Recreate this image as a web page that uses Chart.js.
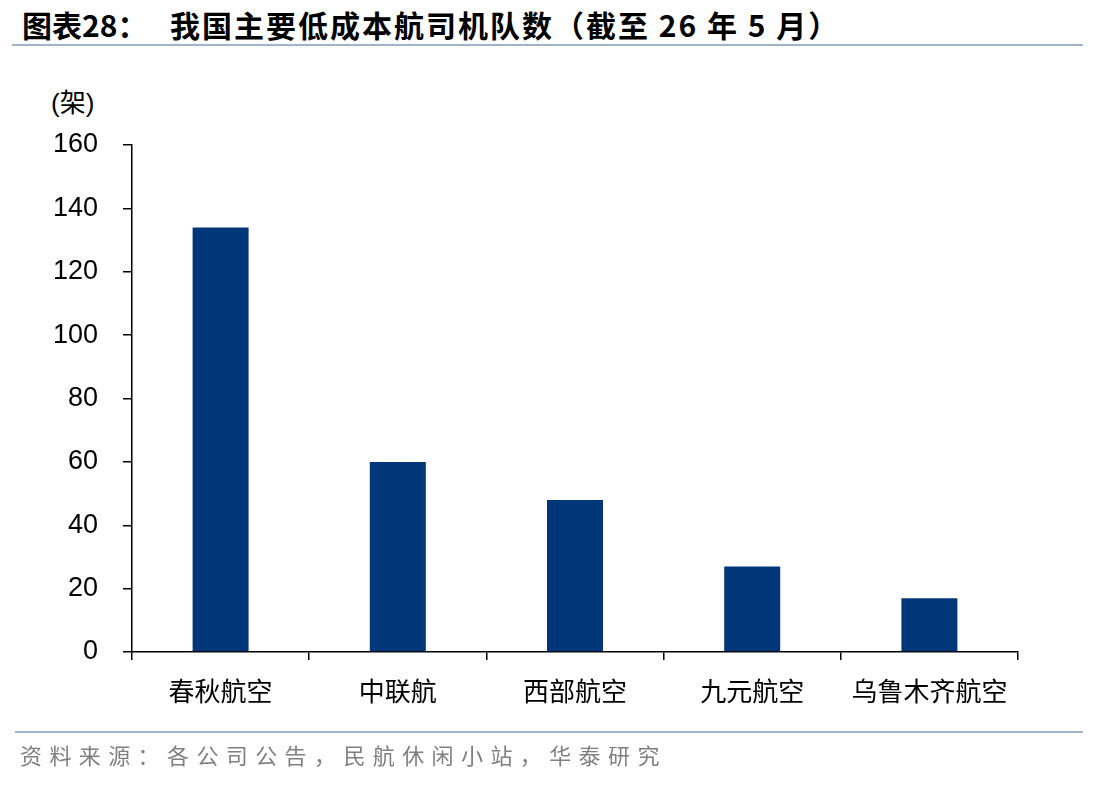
<!DOCTYPE html>
<html>
<head>
<meta charset="utf-8">
<script src="https://cdn.jsdelivr.net/npm/chart.js@4"></script>
<style>
  body { margin: 0; background: #fff; }
  #wrap { position: relative; width: 1112px; height: 786px; overflow: hidden; }
  #title { position: absolute; left: 22px; top: 2px; font-family: "Noto Sans CJK SC", sans-serif; font-weight: 700; font-size: 30px; color: #000; white-space: nowrap; }
  #title .main { position: absolute; left: 148px; top: 0; letter-spacing: 2px; }
  .rule { position: absolute; left: 12px; width: 1071px; height: 2px; background: #9fb4cb; }
  #unit { position: absolute; left: 51px; top: 82px; font-family: "Liberation Sans", "Noto Sans CJK SC", sans-serif; font-size: 26px; color: #000; }
  #source { position: absolute; left: 20px; top: 738px; font-family: "Noto Sans CJK SC", sans-serif; font-size: 22px; letter-spacing: 7.4px; color: #808080; white-space: nowrap; }
  canvas { position: absolute; left: 0; top: 0; }
</style>
</head>
<body>
<div id="wrap">
  <div id="title"><span>图表28：</span><span class="main">我国主要低成本航司机队数（截至 26 年 5 月）</span></div>
  <div class="rule" style="top:44px"></div>
  <div id="unit">(架)</div>
  <canvas id="chart" width="1112" height="786"></canvas>
  <div class="rule" style="top:731px; left:15px; width:1068px"></div>
  <div id="source">资料来源：各公司公告，民航休闲小站，华泰研究</div>
</div>
<script>
const airlines = ["春秋航空", "中联航", "西部航空", "九元航空", "乌鲁木齐航空"]
const fleetSize = [134, 60, 48, 27, 17]
const yTicks = { min: 0, max: 160, step: 20 }

const ctx = document.getElementById("chart").getContext("2d")

new Chart(ctx, {
  type: "bar",
  data: {
    labels: airlines,
    datasets: [
      {
        data: fleetSize,
        backgroundColor: "#013778",
        borderWidth: 0,
        categoryPercentage: 1,
        barPercentage: 0.316,
      },
    ],
  },
  options: {
    responsive: false,
    animation: false,
    layout: { padding: { top: 145, right: 94, bottom: 0, left: 0 } },
    plugins: {
      legend: { display: false },
      tooltip: { enabled: false },
    },
    scales: {
      x: {
        afterFit: (scale) => { scale.height = 134 },
        border: { display: true, color: "#000", width: 1.5 },
        grid: { display: true, drawOnChartArea: false, drawTicks: true, tickLength: 8, color: "#000", lineWidth: 1.5 },
        ticks: {
          color: "#000",
          padding: 16,
          maxRotation: 0,
          font: { family: "'Noto Sans CJK SC', sans-serif", size: 26 },
        },
      },
      y: {
        min: yTicks.min,
        max: yTicks.max,
        afterFit: (scale) => { scale.width = 132 },
        border: { display: true, color: "#000", width: 1.5 },
        grid: { display: true, drawOnChartArea: false, drawTicks: true, tickLength: 9, color: "#000", lineWidth: 1.5 },
        ticks: {
          stepSize: yTicks.step,
          color: "#000",
          padding: 25,
          font: { family: "'Liberation Sans', Arial, sans-serif", size: 27 },
        },
      },
    },
  },
})
</script>
</body>
</html>
